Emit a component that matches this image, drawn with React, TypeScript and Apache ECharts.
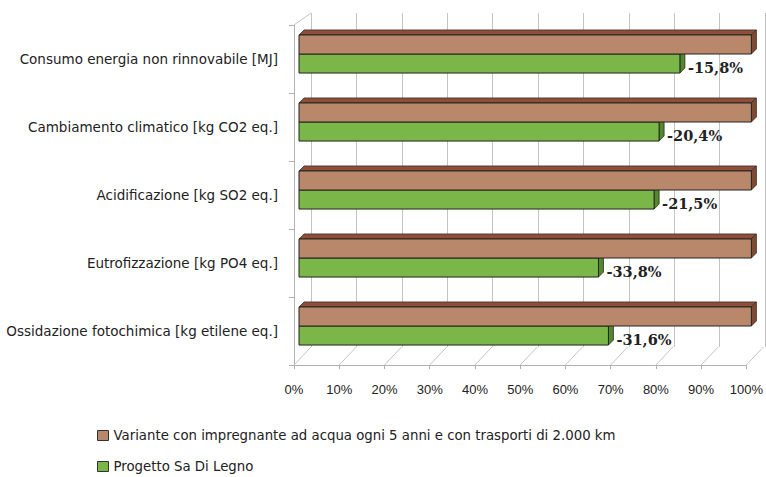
import React, { useEffect, useRef } from "react";
import * as echarts from "echarts";

const categories = [
  "Consumo energia non rinnovabile [MJ]",
  "Cambiamento climatico [kg CO2 eq.]",
  "Acidificazione [kg SO2 eq.]",
  "Eutrofizzazione [kg PO4 eq.]",
  "Ossidazione fotochimica [kg etilene eq.]",
];
const variantName =
  "Variante con impregnante ad acqua ogni 5 anni e con trasporti di 2.000 km";
const progettoName = "Progetto Sa Di Legno";
const variantValues = [100, 100, 100, 100, 100];
const progettoValues = [84.2, 79.6, 78.5, 66.2, 68.4];
const reductionLabels = ["-15,8%", "-20,4%", "-21,5%", "-33,8%", "-31,6%"];
const xTicks = [0, 10, 20, 30, 40, 50, 60, 70, 80, 90, 100];

const DEPTH = 5;
const SHIFT_Y = 5;
const FLOOR_DX = 17;
const FLOOR_DY = -18;

function barRenderer(kind: "top" | "bottom", front: string, topFace: string, side: string) {
  return (params: any, api: any) => {
    const v = api.value(0);
    const cat = api.value(1);
    const p0 = api.coord([0, cat]);
    const p1 = api.coord([v, cat]);
    const band = api.size([0, 1])[1];
    const h = band * 0.28;
    const cy = p0[1] - SHIFT_Y;
    const yTop = kind === "top" ? cy - h : cy;
    const yBot = yTop + h;
    const x0 = p0[0] + 5;
    const x1 = p1[0] + 5;
    const d = DEPTH;
    const stroke = "#3a2a20";
    const children: any[] = [];
    if (kind === "top") {
      children.push({
        type: "polygon",
        shape: { points: [[x0, yTop], [x1, yTop], [x1 + d, yTop - d], [x0 + d, yTop - d]] },
        style: { fill: topFace, stroke, lineWidth: 0.8 },
      });
    }
    children.push({
      type: "polygon",
      shape: { points: [[x1, yTop], [x1 + d, yTop - d], [x1 + d, yBot - d], [x1, yBot]] },
      style: { fill: side, stroke, lineWidth: 0.8 },
    });
    children.push({
      type: "rect",
      shape: { x: x0, y: yTop, width: x1 - x0, height: h },
      style: { fill: front, stroke: "#222", lineWidth: 1 },
    });
    if (kind === "bottom") {
      children.push({
        type: "text",
        style: {
          text: reductionLabels[params.dataIndex],
          x: x1 + d + 3,
          y: (yTop + yBot) / 2 + 4,
          verticalAlign: "middle",
          align: "left",
          fill: "#222",
          font: "bold 14.5px 'DejaVu Serif', 'Liberation Serif', serif",
        },
      });
    }
    return { type: "group", children };
  };
}

export default function App() {
  const ref = useRef<HTMLDivElement>(null);
  useEffect(() => {
    if (!ref.current) return;
    const chart = echarts.init(ref.current, null, { renderer: "svg" });
    const font = "'Liberation Sans', Arial, sans-serif";
    const wideFont = "'DejaVu Sans', sans-serif";
    const legendCommon = {
      orient: "vertical",
      left: 97,
      padding: 0,
      itemWidth: 11,
      itemHeight: 10,
      icon: "rect",
      itemStyle: { borderColor: "#333", borderWidth: 1 },
      textStyle: { fontSize: 13.3, fontFamily: wideFont, color: "#222" },
    };
    chart.setOption({
      animation: false,
      backgroundColor: "#ffffff",
      grid: [
        { left: 294, right: 18, top: 25, bottom: 112, containLabel: false },
        { left: 311, right: 1, top: 13, bottom: 130, containLabel: false },
      ],
      xAxis: [
        {
          type: "value",
          gridIndex: 0,
          min: 0,
          max: 100,
          interval: 10,
          axisLine: { show: true, lineStyle: { color: "#b0b0b0" } },
          axisTick: { show: true, length: 4, lineStyle: { color: "#b0b0b0" } },
          splitLine: { show: false },
          axisLabel: {
            formatter: (v: number) => v + "%",
            fontSize: 13,
            fontFamily: font,
            color: "#222",
            margin: 18,
          },
        },
        {
          type: "value",
          gridIndex: 1,
          min: 0,
          max: 100,
          interval: 10,
          axisLine: { show: false },
          axisTick: { show: false },
          axisLabel: { show: false },
          splitLine: { show: true, lineStyle: { color: "#c4c4c4", width: 1 } },
        },
      ],
      yAxis: [
        {
          type: "category",
          gridIndex: 0,
          data: categories,
          inverse: true,
          axisLine: { show: true, lineStyle: { color: "#b0b0b0" } },
          axisTick: { show: true, length: 5, lineStyle: { color: "#b0b0b0" } },
          axisLabel: {
            fontSize: 13.5,
            fontFamily: wideFont,
            color: "#222",
            margin: 16,
            padding: [0, 0, 8, 0],
          },
        },
        { type: "value", gridIndex: 1, show: false, min: 0, max: 1 },
      ],
      legend: [
        { ...legendCommon, top: 429, data: [variantName] },
        { ...legendCommon, top: 460, data: [progettoName] },
      ],
      series: [
        {
          type: "custom",
          name: "frame",
          xAxisIndex: 0,
          yAxisIndex: 0,
          silent: true,
          z: 1,
          data: xTicks.map((t) => [t, 0]),
          encode: { x: 0, y: 1 },
          renderItem: (params: any, api: any) => {
            const cs = params.coordSys;
            const x = api.coord([api.value(0), 0])[0];
            const yb = cs.y + cs.height;
            const children: any[] = [
              {
                type: "line",
                shape: { x1: x, y1: yb, x2: x + FLOOR_DX, y2: yb + FLOOR_DY },
                style: { stroke: "#c4c4c4", lineWidth: 1 },
              },
            ];
            if (params.dataIndex === 0) {
              children.push({
                type: "line",
                shape: { x1: cs.x, y1: cs.y, x2: cs.x + FLOOR_DX, y2: cs.y - 12 },
                style: { stroke: "#c4c4c4", lineWidth: 1 },
              });
            }
            return { type: "group", children };
          },
        },
        {
          type: "custom",
          name: variantName,
          xAxisIndex: 0,
          yAxisIndex: 0,
          z: 3,
          itemStyle: { color: "#b9876a" },
          data: variantValues.map((v, i) => [v, i]),
          encode: { x: 0, y: 1 },
          renderItem: barRenderer("top", "#b9876a", "#8c4f3c", "#7e4a34"),
        },
        {
          type: "custom",
          name: progettoName,
          xAxisIndex: 0,
          yAxisIndex: 0,
          z: 2,
          itemStyle: { color: "#7ab648" },
          data: progettoValues.map((v, i) => [v, i]),
          encode: { x: 0, y: 1 },
          renderItem: barRenderer("bottom", "#7ab648", "#5d9a34", "#4f8a2c"),
        },
      ],
    });
    return () => chart.dispose();
  }, []);
  return <div ref={ref} style={{ width: 766, height: 477, position: "absolute", left: 0, top: 0 }} />;
}
